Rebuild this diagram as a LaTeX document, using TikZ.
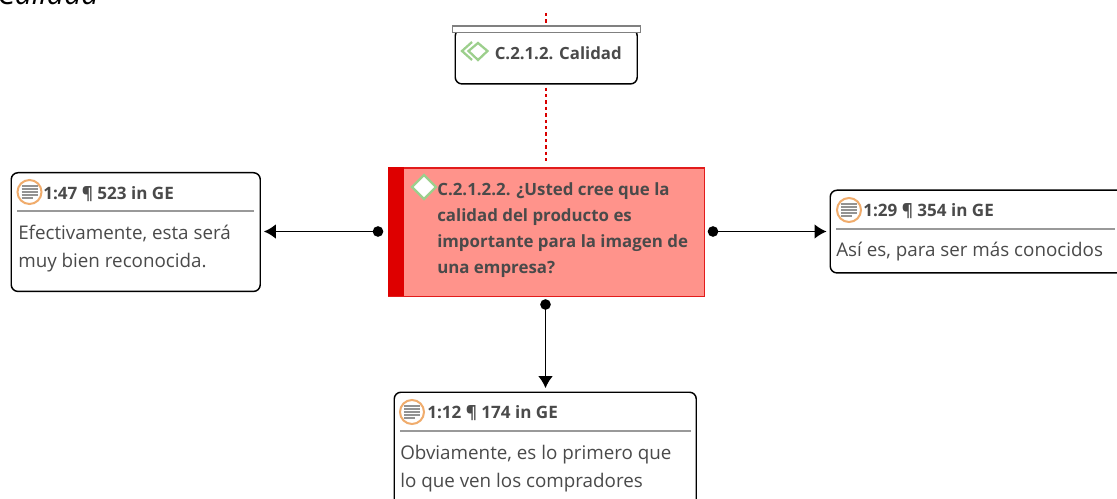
\documentclass[tikz,border=0pt]{standalone}
\usepackage{fontspec}
\setmainfont{Open Sans}
\usetikzlibrary{arrows.meta,positioning}
\definecolor{txt}{HTML}{4A4A4A}
\definecolor{redfill}{HTML}{FF938B}
\definecolor{redbar}{HTML}{DE0000}
\definecolor{rededge}{HTML}{E21B1B}
\definecolor{ora}{HTML}{F0AC6C}
\definecolor{grn}{HTML}{9CCF8C}
\tikzset{
  x=0.75pt,y=-0.75pt,
  box/.style={draw=black,line width=1.1pt,rounded corners=5pt,fill=white},
  head/.style={anchor=west,inner sep=0pt,text=txt,font=\fontsize{12.8}{15}\selectfont\bfseries},
  body/.style={anchor=north west,inner sep=0pt,text=txt,align=left,font=\fontsize{14.1}{21}\selectfont},
  rule/.style={draw=gray!80,line width=0.9pt},
  dotn/.style={circle,fill=black,inner sep=0pt,minimum size=8pt},
  conn/.style={line width=1.25pt,-{Latex[length=9pt,width=11pt]}},
  linkred/.style={draw=red!85!black,line width=1.1pt,dash pattern=on 2.6pt off 2.2pt},
  qicon/.pic={
    \draw[ora,line width=1.5pt,fill=white] (0,0) circle[radius=12];
    \foreach \yy/\ww in {-6/8,-3/8,0/8,3/8,6/3}
      \draw[gray!85,line width=1.1pt] (-8,\yy) -- (\ww,\yy);
  }
}
\begin{document}
\begin{tikzpicture}
\useasboundingbox (0,0) rectangle (1117,499);
\clip (0,0) rectangle (1117,499);
% clipped title
\node[anchor=base west,inner sep=0pt,font=\fontsize{22.5}{26}\selectfont\itshape,text=black] (title) at (-3,5) {Calidad};
% top code box
\coordinate (lnkA) at (546,13);
\node[box,anchor=north west,inner sep=0pt,minimum width=136.5pt,minimum height=41pt] (code) at (454.5,28.5) {};
\node[draw=gray,line width=1.2pt,fill=white,anchor=north west,inner sep=0pt,minimum width=141pt,minimum height=5pt] (codebar) at (451.5,25) {};
\draw[linkred] (lnkA) -- (codebar.north -| lnkA);
\draw[grn,line width=1.7pt] (472,42) -- (462,51) -- (472,60);
\draw[grn,line width=1.7pt] (478,43) -- (487.5,51) -- (478,60) -- (468.5,51) -- cycle;
\node[head,font=\fontsize{12.6}{15}\selectfont\bfseries] (codet) at (494.5,53) {C.2.1.2. Calidad};
% red box
\node[draw=rededge,line width=1pt,fill=redfill,anchor=north west,inner sep=0pt,minimum width=237pt,minimum height=96pt] (q) at (387.5,167.5) {};
\fill[redbar] (387.5,167.5) rectangle (404,295.5);
\draw[linkred] (code.south -| lnkA) ++(0,3) coordinate (lnkB) -- ([yshift=4.5pt]lnkB |- q.north);
\draw[grn,line width=1.7pt,fill=white] (424,175) -- (436,187) -- (424,199) -- (412,187) -- cycle;
\node[anchor=north west,inner sep=0pt,text=txt,align=left,font=\fontsize{12.65}{19.6}\selectfont\bfseries] (qt) at (437,182) {C.2.1.2.2. ¿Usted cree que la\\calidad del producto es\\importante para la imagen de\\una empresa?};
% left box
\node[box,anchor=north west,inner sep=0pt,minimum width=186.75pt,minimum height=89pt] (b1) at (10.5,172) {};
\pic at (29.5,192) {qicon};
\node[head] (b1h) at (43,194) {1:47 ¶ 523 in GE};
\draw[rule] (17,211) -- (254,211);
\node[body] (b1t) at (18,224.5) {Efectivamente, esta será\\muy bien reconocida.};
% right box
\node[box,anchor=north west,inner sep=0pt,minimum width=225pt,minimum height=62pt] (b2) at (829.5,189.5) {};
\pic at (849,210) {qicon};
\node[head] (b2h) at (863,211.5) {1:29 ¶ 354 in GE};
\draw[rule] (836,229) -- (1115,229);
\node[body] (b2t) at (836,242) {Así es, para ser más conocidos};
% bottom box
\node[box,anchor=north west,inner sep=0pt,minimum width=226.5pt,minimum height=112pt] (b3) at (393.5,391.5) {};
\pic at (412,412) {qicon};
\node[head] (b3h) at (427,413.5) {1:12 ¶ 174 in GE};
\draw[rule] (400,431) -- (691,431);
\node[body] (b3t) at (400,444.5) {Obviamente, es lo primero que\\lo que ven los compradores};
% connectors
\node[dotn] (dl) at (378,231.5) {};
\node[dotn] (dr) at (713,231.5) {};
\node[dotn] (dd) at (545.5,304.5) {};
\draw[conn,shorten >=2.2pt] (dl.center) -- (dl.center -| b1.east);
\draw[conn,shorten >=2.2pt] (dr.center) -- (dr.center -| b2.west);
\draw[conn,shorten >=2.5pt] (dd.center) -- (dd.center |- b3.north);
\end{tikzpicture}
\end{document}
